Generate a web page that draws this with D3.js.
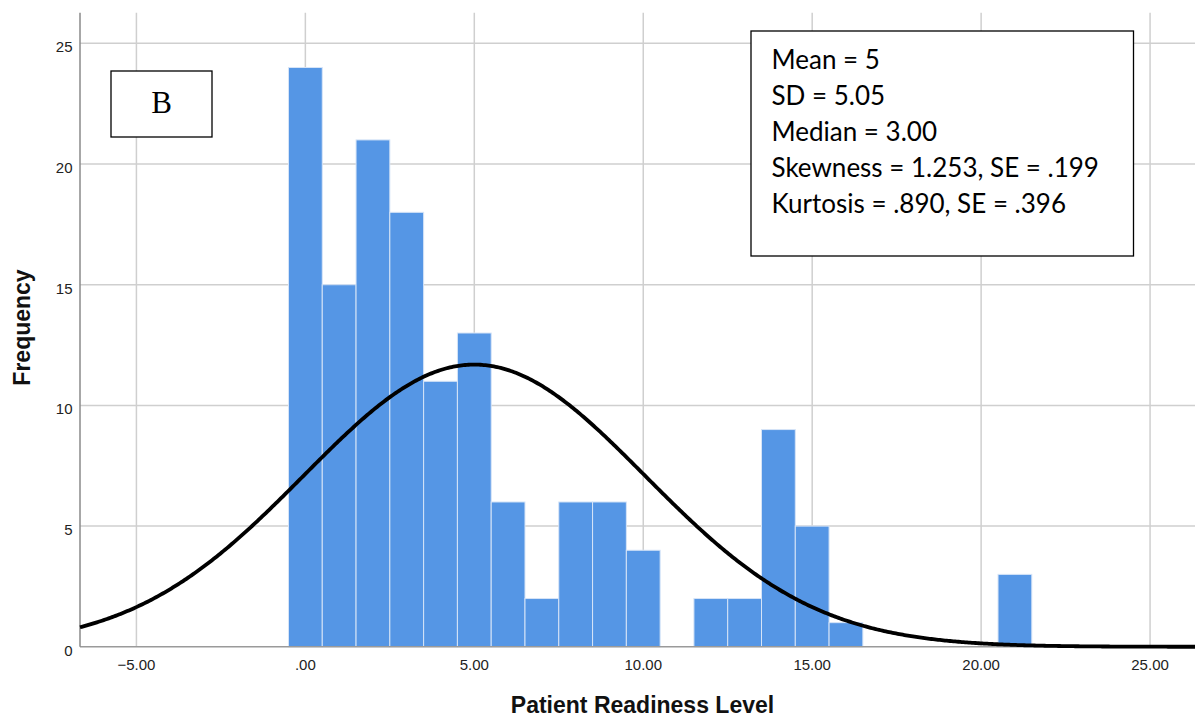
<!DOCTYPE html>
<html>
<head>
<meta charset="utf-8">
<script src="https://cdn.jsdelivr.net/npm/d3@7"></script>
<style>
  html, body { margin: 0; padding: 0; background: #fff; }
  svg { display: block; }
</style>
</head>
<body>
<svg width="1195" height="719"></svg>
<script>
// histogram bins (centre of each bin, width 1)
let binCentres = [0, 1, 2, 3, 4, 5, 6, 7, 8, 9, 10, 11, 12, 13, 14, 15, 16, 21];
let frequencies = [24, 15, 21, 18, 11, 13, 6, 2, 6, 6, 4, 0, 2, 2, 9, 5, 1, 3];

let xTicks = [-5, 0, 5, 10, 15, 20, 25];
let yTicks = [0, 5, 10, 15, 20, 25];

let statLines = [
  "Mean = 5",
  "SD = 5.05",
  "Median = 3.00",
  "Skewness = 1.253, SE = .199",
  "Kurtosis = .890, SE = .396"
];

// normal curve parameters shown in the box
let mean = 5, sd = 5.05, binWidth = 1;
let n = d3.sum(frequencies);

let svg = d3.select("svg");

let plotLeft = 80, plotRight = 1195, plotTop = 12.7, plotBottom = 646.8;

let xScale = d3.scaleLinear().domain([-6.67, 26.33]).range([plotLeft, plotRight]);
let yScale = d3.scaleLinear().domain([0, 26.27]).range([plotBottom, plotTop]);

// grid
svg.append("g")
  .selectAll("line")
  .data(xTicks)
  .enter().append("line")
    .attr("x1", d => xScale(d)).attr("x2", d => xScale(d))
    .attr("y1", plotTop).attr("y2", plotBottom)
    .attr("stroke", "#cfcfcf").attr("stroke-width", 1.5);

svg.append("g")
  .selectAll("line")
  .data(yTicks.filter(d => d > 0))
  .enter().append("line")
    .attr("x1", plotLeft).attr("x2", plotRight)
    .attr("y1", d => yScale(d)).attr("y2", d => yScale(d))
    .attr("stroke", "#cfcfcf").attr("stroke-width", 1.5);

// bars
svg.append("g")
  .selectAll("rect")
  .data(binCentres.map((c, i) => ({ c: c, f: frequencies[i] })).filter(d => d.f > 0))
  .enter().append("rect")
    .attr("x", d => xScale(d.c - binWidth / 2))
    .attr("width", d => xScale(d.c + binWidth / 2) - xScale(d.c - binWidth / 2))
    .attr("y", d => yScale(d.f))
    .attr("height", d => yScale(0) - yScale(d.f))
    .attr("fill", "#5596e5")
    .attr("stroke", "#d6e4f7")
    .attr("stroke-width", 1);

// axes lines
svg.append("line")
  .attr("x1", plotLeft).attr("x2", plotRight)
  .attr("y1", plotBottom).attr("y2", plotBottom)
  .attr("stroke", "#9a9a9a").attr("stroke-width", 1.5);
svg.append("line")
  .attr("x1", plotLeft).attr("x2", plotLeft)
  .attr("y1", plotTop).attr("y2", plotBottom)
  .attr("stroke", "#8a8a8a").attr("stroke-width", 1.5);

// normal curve
let curveXs = d3.range(xScale.domain()[0], xScale.domain()[1] + 0.01, 0.05);
let density = x => n * binWidth / (sd * Math.sqrt(2 * Math.PI)) * Math.exp(-0.5 * Math.pow((x - mean) / sd, 2));
svg.append("path")
  .datum(curveXs)
  .attr("fill", "none")
  .attr("stroke", "#000")
  .attr("stroke-width", 3.8)
  .attr("d", d3.line().x(d => xScale(d)).y(d => yScale(density(d))));

// tick labels
let fmt = d => d === 0 ? ".00" : d3.format(".2f")(d);
svg.append("g")
  .selectAll("text")
  .data(xTicks)
  .enter().append("text")
    .attr("x", d => xScale(d))
    .attr("y", 670)
    .attr("text-anchor", "middle")
    .attr("font-family", "Liberation Sans, Arial, sans-serif")
    .attr("font-size", 15)
    .attr("fill", "#222")
    .text(fmt);

svg.append("g")
  .selectAll("text")
  .data(yTicks)
  .enter().append("text")
    .attr("x", 72.5)
    .attr("y", d => yScale(d) + 9)
    .attr("text-anchor", "end")
    .attr("font-family", "Liberation Sans, Arial, sans-serif")
    .attr("font-size", 15)
    .attr("fill", "#222")
    .text(d => d);

// axis titles
svg.append("text")
  .attr("x", 642.5).attr("y", 713)
  .attr("text-anchor", "middle")
  .attr("font-family", "Liberation Sans, Arial, sans-serif")
  .attr("font-weight", "bold")
  .attr("font-size", 23)
  .attr("fill", "#111")
  .text("Patient Readiness Level");

svg.append("text")
  .attr("transform", "translate(30,327.5) rotate(-90)")
  .attr("text-anchor", "middle")
  .attr("font-family", "Liberation Sans, Arial, sans-serif")
  .attr("font-weight", "bold")
  .attr("font-size", 23)
  .attr("fill", "#111")
  .text("Frequency");

// "B" label box
svg.append("rect")
  .attr("x", 111).attr("y", 71)
  .attr("width", 101).attr("height", 66)
  .attr("fill", "#fff").attr("stroke", "#000").attr("stroke-width", 1.3);
svg.append("text")
  .attr("x", 161.5).attr("y", 112.5)
  .attr("text-anchor", "middle")
  .attr("font-family", "Liberation Serif, Times New Roman, serif")
  .attr("font-size", 31)
  .text("B");

// statistics box
svg.append("rect")
  .attr("x", 751).attr("y", 31)
  .attr("width", 382.5).attr("height", 225)
  .attr("fill", "#fff").attr("stroke", "#000").attr("stroke-width", 1.3);
svg.append("g")
  .selectAll("text")
  .data(statLines)
  .enter().append("text")
    .attr("x", 771.5)
    .attr("y", (d, i) => 69 + i * 35.9)
    .attr("font-family", "Lato, Carlito, Calibri, sans-serif")
    .attr("font-size", 26)
    .attr("fill", "#000")
    .text(d => d);
</script>
</body>
</html>
